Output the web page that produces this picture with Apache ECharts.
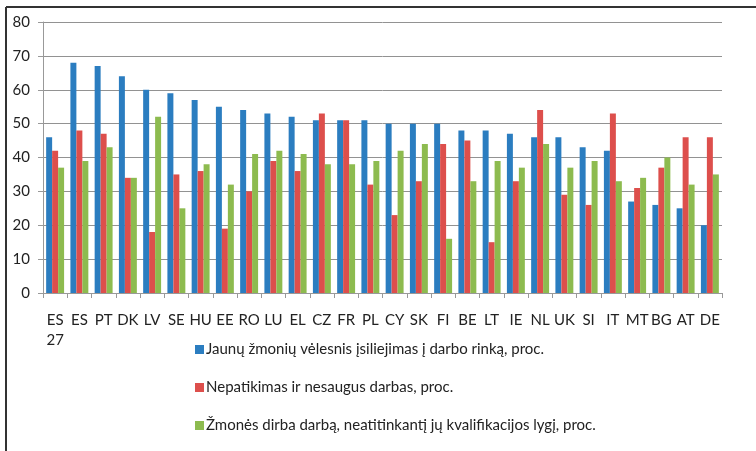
<!DOCTYPE html>
<html>
<head>
<meta charset="utf-8">
<script src="https://cdn.jsdelivr.net/npm/echarts@6/dist/echarts.min.js"></script>
<style>
  html, body { margin: 0; padding: 0; background: #fff; }
  #chart { width: 756px; height: 451px; }
</style>
</head>
<body>
<div id="chart"></div>
<script>
// Countries (EU-27 average first)
const countries = ['ES\n27', 'ES', 'PT', 'DK', 'LV', 'SE', 'HU', 'EE', 'RO', 'LU', 'EL', 'CZ', 'FR', 'PL',
  'CY', 'SK', 'FI', 'BE', 'LT', 'IE', 'NL', 'UK', 'SI', 'IT', 'MT', 'BG', 'AT', 'DE'];

const seriesNames = [
  'Jaunų žmonių vėlesnis įsiliejimas į darbo rinką, proc.',
  'Nepatikimas ir nesaugus darbas, proc.',
  'Žmonės dirba darbą, neatitinkantį jų kvalifikacijos lygį, proc.'
];

const lateEntry = [46, 68, 67, 64, 60, 59, 57, 55, 54, 53, 52, 51, 51, 51,
  50, 50, 50, 48, 48, 47, 46, 46, 43, 42, 27, 26, 25, 20];
const insecureWork = [42, 48, 47, 34, 18, 35, 36, 19, 30, 39, 36, 53, 51, 32,
  23, 33, 44, 45, 15, 33, 54, 29, 26, 53, 31, 37, 46, 46];
const mismatchedWork = [37, 39, 43, 34, 52, 25, 38, 32, 41, 42, 41, 38, 38, 39,
  42, 44, 16, 33, 39, 37, 44, 37, 39, 33, 34, 40, 32, 35];

const yTicks = { min: 0, max: 80, interval: 10 };
const colors = ['#2B7DC0', '#DD4F4C', '#8DBB4F'];
const font = 'Lato, "Open Sans", sans-serif';

const chart = echarts.init(document.getElementById('chart'), null, { renderer: 'canvas' });

function bar(name, data, color) {
  return {
    name, type: 'bar', data,
    barGap: '0%', barCategoryGap: '26%',
    itemStyle: { color },
    emphasis: { disabled: true }
  };
}

chart.setOption({
  animation: false,
  textStyle: { fontFamily: font },
  grid: { left: 43, right: 34, top: 22, bottom: 158 },
  xAxis: {
    type: 'category',
    data: countries,
    axisLine: { lineStyle: { color: '#999', width: 1 } },
    axisTick: { show: true, length: 5, lineStyle: { color: '#999' } },
    axisLabel: { color: '#222', fontSize: 15, margin: 17, lineHeight: 20, interval: 0, fontFamily: font }
  },
  yAxis: {
    type: 'value',
    min: yTicks.min, max: yTicks.max, interval: yTicks.interval,
    axisLine: { show: true, lineStyle: { color: '#999' } },
    axisTick: { show: true, length: 5, lineStyle: { color: '#999' } },
    splitLine: { lineStyle: { color: '#929292' } },
    axisLabel: { color: '#222', fontSize: 15, margin: 13, fontFamily: font }
  },
  legend: {
    orient: 'vertical',
    left: 190, top: 337,
    itemWidth: 9, itemHeight: 9,
    itemGap: 23,
    icon: 'rect',
    textStyle: { color: '#222', fontSize: 15, fontFamily: font, padding: [0, 0, 0, -3] },
    data: seriesNames
  },
  graphic: [
    { type: 'line', shape: { x1: 6, y1: 7, x2: 756, y2: 7 }, style: { stroke: '#333', lineWidth: 2 } },
    { type: 'line', shape: { x1: 6, y1: 7, x2: 6, y2: 451 }, style: { stroke: '#333', lineWidth: 2 } }
  ],
  series: [
    bar(seriesNames[0], lateEntry, colors[0]),
    bar(seriesNames[1], insecureWork, colors[1]),
    bar(seriesNames[2], mismatchedWork, colors[2])
  ]
});
</script>
</body>
</html>
